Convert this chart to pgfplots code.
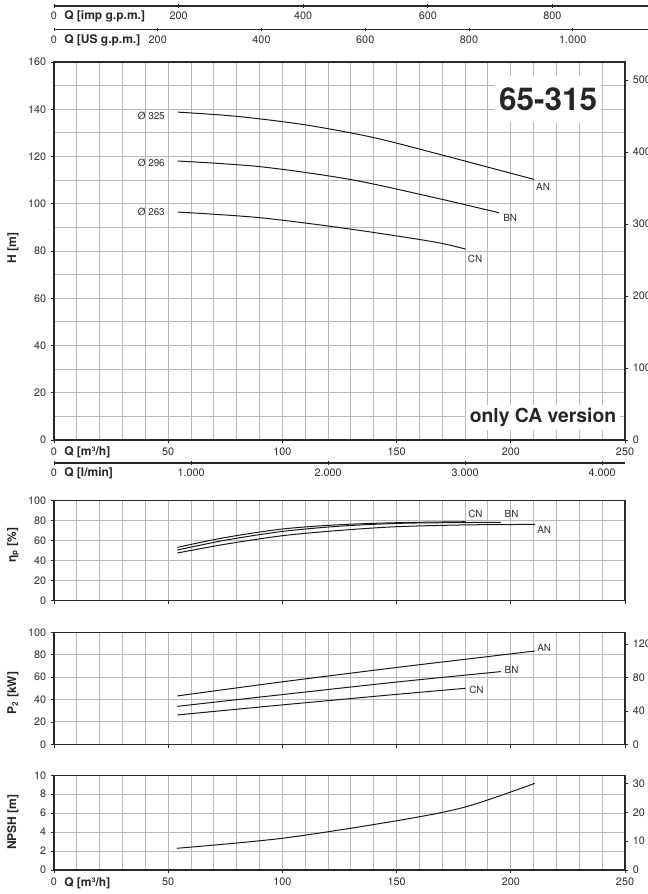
\documentclass[border=0pt]{standalone}
\usepackage{fontspec}
\setmainfont{TeX Gyre Heros}
\usepackage{pgfplots}
\pgfplotsset{compat=1.18}
\definecolor{gridc}{RGB}{185,185,185}
\definecolor{axc}{RGB}{40,40,40}
\definecolor{txt}{RGB}{45,45,45}
\newcommand{\tf}{\fontsize{8.1}{9.5}\selectfont}
\newcommand{\lf}{\fontsize{7.4}{8.5}\selectfont}
\newcommand{\qf}{\fontsize{9}{10}\selectfont\bfseries}
\tikzset{lbl/.style={font=\lf, text=txt, inner sep=0pt}}
\pgfplotsset{
  common/.style={
    scale only axis, width=428.25pt,
    xmin=0, xmax=250,
    /pgf/number format/assume math mode=true,
    /pgf/number format/1000 sep={.},
    tick label style={font=\tf, text=txt},
    tick align=outside,
    major tick length=2.4pt, minor tick length=0pt,
    tick style={axc, line width=0.6pt},
    clip=false,
  },
  main/.style={common,
    axis line style={axc, line width=0.9pt},
    xmajorgrids=true, xminorgrids=true, ymajorgrids=true, yminorgrids=true,
    grid style={draw=gridc, line width=0.75pt},
    major grid style={draw=gridc, line width=0.75pt},
    minor grid style={draw=gridc, line width=0.75pt},
    xtick={0,50,...,250}, minor xtick={0,10,...,250},
    xtick pos=bottom, ytick pos=left,
    cycle list={black!90\\},
    every axis plot post/.append style={black!90, line width=0.75pt, smooth, mark=none},
  },
  rightax/.style={common,
    axis line style={draw=none}, xtick=\empty, ytick pos=right,
  },
  scalebar/.style={common, height=2pt, hide y axis, ymin=0, ymax=1,
    axis x line=bottom, x axis line style={-, axc, line width=0.9pt},
  },
}
\begin{document}
\begin{tikzpicture}
\useasboundingbox (0,0) rectangle (486pt,-670.5pt);
% ---------- top scales ----------
\begin{axis}[scalebar, at={({54*0.75pt},{-6*0.75pt})}, anchor=south west,
  width=454.5pt, xmax=972.7, xtick={0,200,...,800}]
\end{axis}
\begin{axis}[scalebar, at={({54*0.75pt},{-29.3*0.75pt})}, anchor=south west,
  width=454.5pt, xmax=1168.2, xtick={0,200,...,1000}]
\end{axis}
% ---------- H ----------
\begin{axis}[main, at={({54*0.75pt},{-62*0.75pt})}, anchor=north west, height=283.5pt,
  ymin=0, ymax=160, ytick={0,20,...,160}, minor ytick={0,10,...,160}]
\addplot coordinates {(54.1,138.8) (80,137.0) (110,133.4) (140,128.0) (170,120.6) (210.2,110.3)};
\addplot coordinates {(54.1,118.1) (90.2,115.7) (129.6,110.3) (166.1,102.7) (194.8,96.2)};
\addplot coordinates {(54.1,96.5) (90.2,94.1) (129.6,89.3) (166.1,83.9) (180.2,80.8)};
\node[lbl, anchor=east] at (axis cs:48.6,137.1) {Ø 325};
\node[lbl, anchor=east] at (axis cs:48.6,117.2) {Ø 296};
\node[lbl, anchor=east] at (axis cs:48.6,96.5) {Ø 263};
\node[lbl, anchor=west] at (axis cs:211,107) {AN};
\node[lbl, anchor=west] at (axis cs:196.6,94.1) {BN};
\node[lbl, anchor=west] at (axis cs:181.1,76.6) {CN};
\node[fill=white, minimum width=79.5pt, minimum height=34.5pt, inner sep=0pt,
  font=\fontsize{23.6}{26}\selectfont\bfseries, text=black!85] at (axis cs:216.3,144.3) {65-315};
\node[fill=white, inner sep=2.5pt, font=\fontsize{14.5}{16}\selectfont\bfseries, text=black!85]
  at (axis cs:214.1,9.6) {only CA version};
\end{axis}
\begin{axis}[rightax, at={({54*0.75pt},{-62*0.75pt})}, anchor=north west, height=283.5pt,
  ymin=0, ymax=524.93, ytick={0,100,...,500}]
\end{axis}
% l/min scale
\begin{axis}[scalebar, at={({54*0.75pt},{-463*0.75pt})}, anchor=south west,
  width=428.25pt, xmax=4166.7, xtick={0,1000,...,4000}]
\end{axis}
% ---------- eta ----------
\begin{axis}[main, at={({54*0.75pt},{-500.7*0.75pt})}, anchor=north west, height=75pt,
  ymin=0, ymax=100, ytick={0,20,...,100}, xticklabels={}]
\addplot coordinates {(54,53.3) (75,63.2) (100,71.7) (125,76) (150,78) (180.2,79)};
\addplot coordinates {(54,50.7) (75,60.5) (100,69.3) (125,74.5) (150,77.3) (175,78.1) (195.6,78.3)};
\addplot coordinates {(54,47.7) (75,56.5) (100,65) (125,70.3) (150,74) (180,75.8) (210.5,76.3)};
\node[lbl, anchor=west] at (axis cs:181.3,87.3) {CN};
\node[lbl, anchor=west] at (axis cs:197.2,86.7) {BN};
\node[lbl, anchor=west] at (axis cs:211.5,70.7) {AN};
\end{axis}
% ---------- P2 ----------
\begin{axis}[main, at={({54*0.75pt},{-632.3*0.75pt})}, anchor=north west, height=84pt,
  ymin=0, ymax=100, ytick={0,20,...,100}, xticklabels={}]
\addplot coordinates {(54,43.2) (100,55.8) (150,68.6) (180,75.9) (210.5,83.3)};
\addplot coordinates {(54,33.9) (100,44.4) (150,55.6) (195.6,64.9)};
\addplot coordinates {(54,26.2) (100,35.2) (150,44.6) (180.2,50)};
\node[lbl, anchor=west] at (axis cs:211.5,86.3) {AN};
\node[lbl, anchor=west] at (axis cs:197.2,66.4) {BN};
\node[lbl, anchor=west] at (axis cs:181.7,48.5) {CN};
\end{axis}
\begin{axis}[rightax, at={({54*0.75pt},{-632.3*0.75pt})}, anchor=north west, height=84pt,
  ymin=0, ymax=134.1, ytick={0,40,80,120}]
\end{axis}
% ---------- NPSH ----------
\begin{axis}[main, at={({54*0.75pt},{-775.3*0.75pt})}, anchor=north west, height=71pt,
  ymin=0, ymax=10, ytick={0,2,...,10}]
\addplot coordinates {(53.8,2.29) (100,3.35) (150,5.2) (180,6.65) (210.5,9.15)};
\end{axis}
\begin{axis}[rightax, at={({54*0.75pt},{-775.3*0.75pt})}, anchor=north west, height=71pt,
  ymin=0, ymax=32.81, ytick={0,10,20,30}]
\end{axis}
% ---------- text labels ----------
\begin{scope}[x=0.75pt, y=-0.75pt]
\node[anchor=west, inner sep=0pt, font=\qf, text=black!85] at (64,16.5) {Q [imp g.p.m.]};
\node[anchor=west, inner sep=0pt, font=\qf, text=black!85] at (64,40.5) {Q [US g.p.m.]};
\node[anchor=west, inner sep=0pt, font=\qf, text=black!85] at (64,452) {Q [m³/h]};
\node[anchor=west, inner sep=0pt, font=\qf, text=black!85] at (64,473) {Q [l/min]};
\node[anchor=west, inner sep=0pt, font=\qf, text=black!85] at (64,883) {Q [m³/h]};
\node[rotate=90, inner sep=0pt, font=\qf, text=black!85] at (13,248) {H [m]};
\node[rotate=90, inner sep=0pt, font=\qf, text=black!85] at (13,545) {η\textsubscript{p} [\%]};
\node[rotate=90, inner sep=0pt, font=\qf, text=black!85] at (13,693) {P\textsubscript{2} [kW]};
\node[rotate=90, inner sep=0pt, font=\qf, text=black!85] at (13,822) {NPSH [m]};
\end{scope}
\end{tikzpicture}
\end{document}
